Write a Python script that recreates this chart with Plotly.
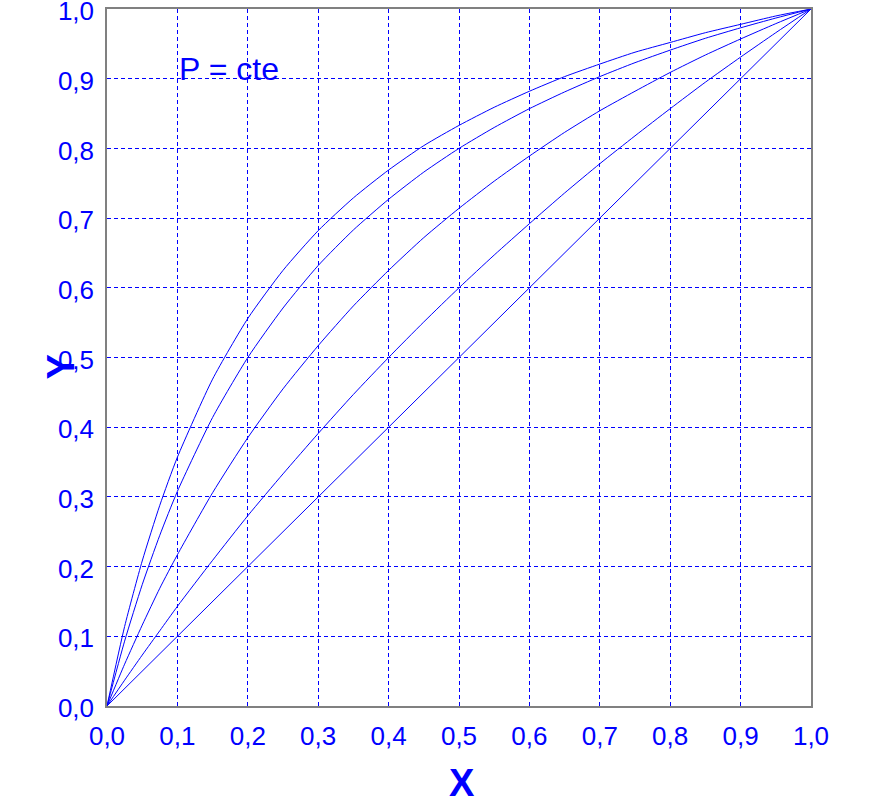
import plotly.graph_objects as go

x_vals = [0, 0.025, 0.05, 0.075, 0.1, 0.15, 0.2, 0.25, 0.3, 0.35, 0.4, 0.45, 0.5,
          0.55, 0.6, 0.65, 0.7, 0.75, 0.8, 0.85, 0.9, 0.95, 1.0]
y_curve1 = [0, 0.114, 0.208, 0.288, 0.357, 0.469, 0.556, 0.625, 0.682, 0.729, 0.769, 0.804, 0.833,
            0.859, 0.882, 0.903, 0.921, 0.938, 0.952, 0.966, 0.978, 0.990, 1.0]
y_curve2 = [0, 0.093, 0.174, 0.245, 0.308, 0.414, 0.500, 0.571, 0.632, 0.683, 0.727, 0.766, 0.800,
            0.830, 0.857, 0.881, 0.903, 0.923, 0.941, 0.958, 0.973, 0.987, 1.0]
y_curve3 = [0, 0.060, 0.116, 0.169, 0.217, 0.306, 0.385, 0.455, 0.517, 0.574, 0.625, 0.672, 0.714,
            0.753, 0.789, 0.823, 0.854, 0.882, 0.909, 0.934, 0.957, 0.979, 1.0]
y_curve4 = [0, 0.037, 0.073, 0.108, 0.143, 0.209, 0.273, 0.333, 0.391, 0.447, 0.500, 0.551, 0.600,
            0.647, 0.692, 0.736, 0.778, 0.818, 0.857, 0.895, 0.931, 0.966, 1.0]
diag_x = [0, 1.0]
diag_y = [0, 1.0]

tick_vals = [0, 0.1, 0.2, 0.3, 0.4, 0.5, 0.6, 0.7, 0.8, 0.9, 1.0]
tick_text = ["0,0", "0,1", "0,2", "0,3", "0,4", "0,5", "0,6", "0,7", "0,8", "0,9", "1,0"]

BLUE = "#0000FF"
FONT = "Liberation Sans, Arial, sans-serif"

fig = go.Figure()
for ys in [y_curve1, y_curve2, y_curve3, y_curve4]:
    fig.add_trace(go.Scatter(x=x_vals, y=ys, mode="lines",
                             line=dict(color=BLUE, width=1, shape="spline", smoothing=0.6),
                             showlegend=False, hoverinfo="skip", cliponaxis=False))
fig.add_trace(go.Scatter(x=diag_x, y=diag_y, mode="lines",
                         line=dict(color=BLUE, width=1), showlegend=False,
                         hoverinfo="skip", cliponaxis=False))

axis_common = dict(
    range=[0, 1], tickvals=tick_vals, ticktext=tick_text,
    showgrid=True, gridcolor=BLUE, gridwidth=1, griddash="4px,3px",
    showline=True, linecolor="#808080", linewidth=1.5, mirror=True,
    zeroline=False, ticks="", tickfont=dict(family=FONT, size=26, color=BLUE),
    fixedrange=True, automargin=False, ticklabeloverflow="allow",
)

fig.update_xaxes(**axis_common, ticklabelstandoff=6)
fig.update_yaxes(**axis_common, ticklabelstandoff=6, ticklabelshift=2)

fig.add_annotation(x=0.1, y=0.9, xref="x", yref="y", text="P = cte",
                   showarrow=False, xanchor="left", yanchor="bottom", yshift=-10,
                   font=dict(family=FONT, size=32, color=BLUE))
fig.add_annotation(x=0.5, y=0, xref="x", yref="paper", text="<b>X</b>",
                   showarrow=False, xanchor="center", yanchor="middle",
                   yshift=-77, xshift=3,
                   font=dict(family=FONT, size=38, color=BLUE))
fig.add_annotation(x=0, y=0.5, xref="paper", yref="y", text="<b>Y</b>",
                   showarrow=False, xanchor="center", yanchor="middle",
                   xshift=-47, yshift=-10, textangle=-90,
                   font=dict(family=FONT, size=38, color=BLUE))

fig.update_layout(
    width=887, height=809,
    margin=dict(l=107, r=76, t=9, b=103, autoexpand=False),
    paper_bgcolor="white", plot_bgcolor="white",
    showlegend=False,
)

fig.write_html("out.html", config={"displayModeBar": False},
               post_script="document.body.style.margin='0';document.body.style.overflow='hidden';")
